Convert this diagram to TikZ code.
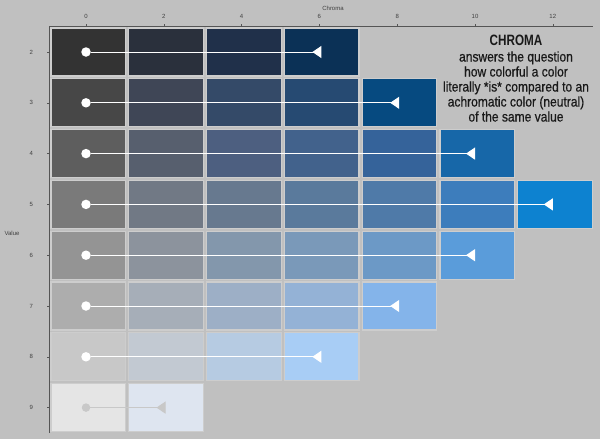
\documentclass[tikz,border=0pt]{standalone}
\usepackage{fontspec}
\setmainfont{Liberation Sans}
\newfontfamily\condfont[FakeStretch=0.86, FakeBold=0.6]{Liberation Sans}
\newfontfamily\condbold[FakeStretch=0.78]{Liberation Sans Bold}
\usetikzlibrary{arrows.meta, positioning}

\definecolor{bggray}{HTML}{C0C0C0}
\definecolor{axisgray}{HTML}{555555}
\definecolor{labelgray}{HTML}{404040}
\definecolor{rimgray}{HTML}{CDCDCD}
\definecolor{faint}{HTML}{C8C8C8}

\tikzset{
    swatch/.style={draw=rimgray, line width=1.2pt},
    dot/.style={circle, fill=white, inner sep=0pt, minimum size=9.5pt},
    chromaline/.style={white, line width=1pt, -{Triangle[reversed, length=9pt, width=12pt]}},
    ticklabel/.style={font=\fontsize{6}{7}\selectfont, text=labelgray},
}

\begin{document}
\begin{tikzpicture}[x=1pt, y=-1pt]
    \fill [bggray] (0, 0) rectangle (600, 439);
    \useasboundingbox (0, 0) rectangle (600, 439);

    % axes
    \draw [axisgray, line width=0.9pt] (49, 433) -- (49, 26) -- (593, 26);
    \foreach \c in {0, 2, ..., 12}
        \draw [axisgray, line width=0.6pt] (86 + 38.9*\c, 26) -- ++(0, -2.5)
            node [ticklabel, above=1pt] {\c};
    \foreach \v in {2, ..., 9}
        \draw [axisgray, line width=0.6pt] (49, 52 + 50.8*\v - 101.6) -- ++(-2.5, 0)
            node [ticklabel, left=10pt] {\v};
    \node [ticklabel] (chromatitle) at (333, 8) {Chroma};
    \node [ticklabel] (valuetitle) at (12, 233) {Value};

    % swatches, one row per value
    \foreach \hex [count=\i from 0] in {333333, 2A303C, 20304A, 0B3156}
        {\definecolor{cell}{HTML}{\hex}
         \draw [swatch, fill=cell] (51 + 77.8*\i, 28) rectangle ++(74.5, 48);}
    \foreach \hex [count=\i from 0] in {474747, 3F4656, 344A68, 264A72, 064A80}
        {\definecolor{cell}{HTML}{\hex}
         \draw [swatch, fill=cell] (51 + 77.8*\i, 78.8) rectangle ++(74.5, 48);}
    \foreach \hex [count=\i from 0] in {5E5E5E, 575F6E, 4D5F80, 42628C, 35639A, 1767A8}
        {\definecolor{cell}{HTML}{\hex}
         \draw [swatch, fill=cell] (51 + 77.8*\i, 129.6) rectangle ++(74.5, 48);}
    \foreach \hex [count=\i from 0] in {7A7A7A, 717985, 67798F, 5A7A9C, 4F7AA8, 3D7DBC, 0D82D0}
        {\definecolor{cell}{HTML}{\hex}
         \draw [swatch, fill=cell] (51 + 77.8*\i, 180.4) rectangle ++(74.5, 48);}
    \foreach \hex [count=\i from 0] in {949494, 8C939D, 8397AC, 7A99B9, 6C99C6, 5A9CDA}
        {\definecolor{cell}{HTML}{\hex}
         \draw [swatch, fill=cell] (51 + 77.8*\i, 231.2) rectangle ++(74.5, 48);}
    \foreach \hex [count=\i from 0] in {ADADAD, A6AEB8, 9DAFC6, 94B2D6, 84B4EA}
        {\definecolor{cell}{HTML}{\hex}
         \draw [swatch, fill=cell] (51 + 77.8*\i, 282) rectangle ++(74.5, 48);}
    \foreach \hex [count=\i from 0] in {C8C8C8, C2C9D2, B6CBE2, A8CDF5}
        {\definecolor{cell}{HTML}{\hex}
         \draw [swatch, fill=cell] (51 + 77.8*\i, 332.8) rectangle ++(74.5, 48);}
    \foreach \hex [count=\i from 0] in {E5E5E5, DEE5F0}
        {\definecolor{cell}{HTML}{\hex}
         \draw [swatch, fill=cell] (51 + 77.8*\i, 383.6) rectangle ++(74.5, 48);}

    % neutral dots and chroma reach
    \node [dot] (neutral2) at (86, 52) {};
    \node [dot] (neutral3) at (86, 102.8) {};
    \node [dot] (neutral4) at (86, 153.6) {};
    \node [dot] (neutral5) at (86, 204.4) {};
    \node [dot] (neutral6) at (86, 255.2) {};
    \node [dot] (neutral7) at (86, 306) {};
    \node [dot] (neutral8) at (86, 356.8) {};
    \node [dot, fill=faint, minimum size=8.5pt] (neutral9) at (86, 407.6) {};

    \coordinate (reach2) at (321.4, 52);
    \coordinate (reach3) at (399.2, 102.8);
    \coordinate (reach4) at (475, 153.6);
    \coordinate (reach5) at (552.8, 204.4);
    \coordinate (reach6) at (475, 255.2);
    \coordinate (reach7) at (399.2, 306);
    \coordinate (reach8) at (321.4, 356.8);
    \coordinate (reach9) at (165.5, 407.6);

    \draw [chromaline] (neutral2) -- (reach2);
    \draw [chromaline] (neutral3) -- (reach3);
    \draw [chromaline] (neutral4) -- (reach4);
    \draw [chromaline] (neutral5) -- (reach5);
    \draw [chromaline] (neutral6) -- (reach6);
    \draw [chromaline] (neutral7) -- (reach7);
    \draw [chromaline] (neutral8) -- (reach8);
    \draw [chromaline, faint] (neutral9) -- (reach9);

    % explanation
    \node [font=\condbold\fontsize{15}{17}\selectfont, text=black!90] (headline) at (516, 40) {CHROMA};
    \node [font=\condfont\fontsize{14}{15}\selectfont, text=black!90, align=center, below=-1pt of headline]
        (explain) {answers the question\\how colorful a color\\literally *is* compared to an\\achromatic color (neutral)\\of the same value};
\end{tikzpicture}
\end{document}
